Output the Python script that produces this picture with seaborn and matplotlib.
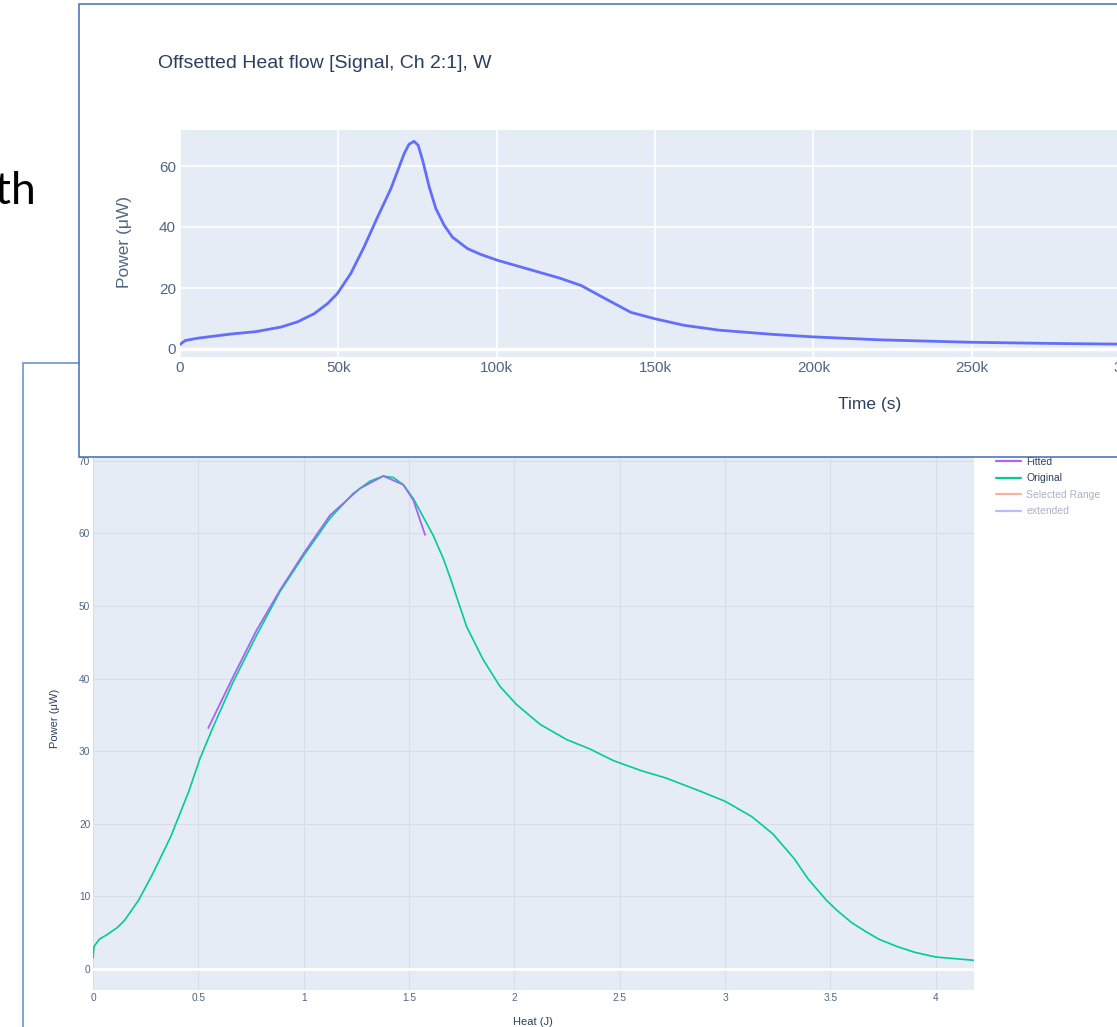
import seaborn as sns
import matplotlib.pyplot as plt
from matplotlib.patches import Rectangle
from matplotlib.lines import Line2D
from matplotlib.ticker import FuncFormatter, MultipleLocator

W, H = 1117, 1027

# top chart: heat flow vs time
time_s = [0, 1700, 6000, 16000, 24000, 31900, 37100, 42400, 46600, 49700,
          53900, 58100, 62400, 66600, 70800, 72300, 73900, 75200, 76600,
          78700, 80800, 83400, 86000, 90800, 95000, 100200, 107600, 114000,
          120000, 126700, 133400, 142400, 150000, 159000, 170000, 187000,
          199500, 221000, 250000, 277000, 296000, 320000]
power_time = [1.5, 2.8, 3.6, 4.9, 5.7, 7.2, 8.9, 11.6, 14.9, 18.2,
              24.7, 33.4, 43.3, 52.6, 64.1, 67.1, 68.1, 66.8, 61.9,
              53.1, 46, 40.6, 36.7, 32.9, 31, 29.1, 26.9, 25.0,
              23.2, 20.8, 17, 12, 9.9, 7.8, 6.2, 4.8,
              4.0, 3.0, 2.2, 1.8, 1.6, 1.4]

# bottom chart: power vs heat
heat_orig = [0, 0.005, 0.03, 0.065, 0.115, 0.15, 0.217, 0.285, 0.37, 0.455,
             0.508, 0.571, 0.666, 0.777, 0.888, 1.001, 1.125, 1.235, 1.315,
             1.378, 1.425, 1.473, 1.52, 1.55, 1.615, 1.663, 1.694, 1.774,
             1.852, 1.932, 2.011, 2.122, 2.248, 2.359, 2.47, 2.604, 2.72,
             2.89, 3.0, 3.126, 3.227, 3.328, 3.394, 3.48, 3.53, 3.6, 3.665,
             3.73, 3.816, 3.9, 4.0, 4.18]
power_orig = [1.5, 3.1, 4.1, 4.7, 5.7, 6.7, 9.5, 13.2, 18.3, 24.5,
              29.0, 33.4, 39.6, 46, 52, 57, 62.1, 65.5, 67.2,
              67.9, 67.7, 66.7, 64.8, 63.2, 59.7, 56.5, 54, 47.1,
              42.6, 38.9, 36.4, 33.7, 31.6, 30.3, 28.7, 27.3, 26.3,
              24.4, 23.1, 21, 18.6, 15.2, 12.4, 9.5, 8.1, 6.4, 5.2,
              4.1, 3.1, 2.3, 1.65, 1.2]
heat_fit = [0.547, 0.666, 0.777, 0.888, 1.001, 1.125, 1.267, 1.378, 1.473, 1.52, 1.576]
power_fit = [33.2, 40.3, 46.7, 52.2, 57.3, 62.5, 66.2, 67.9, 66.7, 64.6, 59.8]

legend_labels = ["Fitted", "Original", "Selected Range", "extended"]
legend_colors = ["#AB63FA", "#00CC96", "#EF553B", "#636EFA"]

sns.set_theme(style="darkgrid")
plt.rcParams['font.family'] = ['Liberation Sans', 'DejaVu Sans']
txt = "#2a3f5f"


def box(x0, y0, x1, y1):
    return [x0 / W, 1 - y1 / H, (x1 - x0) / W, (y1 - y0) / H]


fig = plt.figure(figsize=(W / 100, H / 100), dpi=100)
fig.patch.set_facecolor("white")

fig.text(36 / W, 1 - 192 / H, "th", ha="right", va="center", fontsize=32,
         color="black", family=["Lato", "DejaVu Sans"])

# background panel frame (bottom screenshot)
fig.add_artist(Rectangle((23 / W, -0.1), 1.2, 1 - 363 / H + 0.1,
                         transform=fig.transFigure, facecolor="white",
                         edgecolor="#7b9cd0", lw=1.3, zorder=-1))

# bottom chart
ax2 = fig.add_axes(box(93, 455, 974, 990))
ax2.set_zorder(0)
ax2.set_facecolor("#E5ECF6")
sns.lineplot(x=heat_fit, y=power_fit, ax=ax2, color="#AB63FA", linewidth=1.2,
             sort=False, estimator=None)
sns.lineplot(x=heat_orig, y=power_orig, ax=ax2, color="#00CC96", linewidth=1.2,
             sort=False, estimator=None)
sns.lineplot(x=heat_fit, y=power_fit, ax=ax2, color="#AB63FA", linewidth=1.0,
             sort=False, estimator=None, alpha=0.8)
for ln in ax2.lines:
    ln.set_solid_joinstyle("round")
ax2.set_xlim(0, (974 - 93) / 210.7)
ax2.set_ylim(-(990 - 969) / 7.26, (969 - 455) / 7.26)
ax2.xaxis.set_major_locator(MultipleLocator(0.5))
ax2.yaxis.set_major_locator(MultipleLocator(10))
ax2.xaxis.set_major_formatter(FuncFormatter(lambda v, p: f"{v:g}"))
ax2.grid(True, color="#d8dee9", lw=0.8)
ax2.axhline(0, color="white", lw=2)
for s in ax2.spines.values():
    s.set_visible(False)
ax2.tick_params(length=0, labelsize=7.3, labelcolor="#506784", pad=2)
ax2.set_xlabel("Heat (J)", fontsize=8, color=txt)
ax2.set_ylabel("Power (μW)", fontsize=8, color=txt)
ax2.xaxis.set_label_coords(0.4994, -0.050)
ax2.yaxis.set_label_coords((60 - 93) / 881, 0.508)

handles = [Line2D([], [], color=c, lw=1.6, alpha=1 if i < 2 else 0.45)
           for i, c in enumerate(legend_colors)]
leg = ax2.legend(handles, legend_labels, loc="upper left",
                 bbox_to_anchor=(996 / W, 1 - 457 / H), bbox_transform=fig.transFigure,
                 frameon=False, fontsize=7.5, handlelength=2.4, handletextpad=0.5,
                 labelspacing=0.62, borderpad=0, borderaxespad=0)
for i, t in enumerate(leg.get_texts()):
    t.set_color(txt if i < 2 else "#aab3c3")

# foreground panel frame (top screenshot)
fig.add_artist(Rectangle((79 / W, 1 - 457 / H), 1.2, (457 - 4) / H,
                         transform=fig.transFigure, facecolor="white",
                         edgecolor="#3f6cb5", lw=1.1, zorder=2))

# top chart
ax1 = fig.add_axes(box(180, 130, 1200, 357))
ax1.set_zorder(3)
ax1.set_facecolor("#E5ECF6")
sns.lineplot(x=time_s, y=power_time, ax=ax1, color="#636EFA", linewidth=2,
             sort=False, estimator=None)
ax1.lines[0].set_solid_joinstyle("round")
ax1.set_xlim(0, (1200 - 180) / 3.167 * 1000)
ax1.set_ylim(-(357 - 349) / 3.05, (349 - 130) / 3.05)
ax1.xaxis.set_major_locator(MultipleLocator(50000))
ax1.yaxis.set_major_locator(MultipleLocator(20))
ax1.xaxis.set_major_formatter(FuncFormatter(lambda v, p: "0" if v == 0 else f"{v / 1000:g}k"))
ax1.grid(True, color="white", lw=1.2)
ax1.axhline(0, color="white", lw=2.5)
for s in ax1.spines.values():
    s.set_visible(False)
ax1.tick_params(length=0, labelsize=11, labelcolor="#506784", pad=3)
ax1.set_xlabel("Time (s)", fontsize=12.5, color=txt)
ax1.set_ylabel("Power (μW)", fontsize=12.5, color="#506784")
ax1.xaxis.set_label_coords((870 - 180) / 1020, -0.178)
ax1.yaxis.set_label_coords((132 - 180) / 1020, 0.507)
fig.text(158 / W, 1 - 63 / H, "Offsetted Heat flow [Signal, Ch 2:1], W",
         ha="left", va="center", fontsize=14, color=txt, zorder=4)

fig.savefig("out.png", dpi=100)
